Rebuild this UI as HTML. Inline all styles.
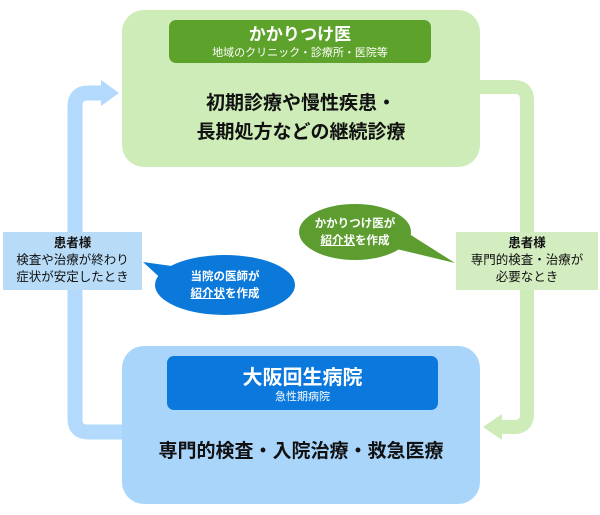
<!DOCTYPE html>
<html><head><meta charset="utf-8"><style>
body{margin:0;width:600px;height:515px;background:#fff;overflow:hidden;position:relative;font-family:"Liberation Sans","Noto Sans CJK JP",sans-serif;}
.a{position:absolute;}
.c{text-align:center;}
</style></head><body>
<svg class="a" style="left:0;top:0" width="600" height="515">
 <path d="M124,432 H88 Q75,432 75,419 V106 Q75,93 88,93 H104" fill="none" stroke="#b3dafc" stroke-width="15"/>
 <polygon points="101,80 119,93 101,106" fill="#b3dafc"/>
 <path d="M478,87 H514 Q527,87 527,100 V414 Q527,427 514,427 H500" fill="none" stroke="#cdecb7" stroke-width="14"/>
 <polygon points="502,414 483,427 502,440" fill="#cdecb7"/>
 <rect x="122" y="10" width="358" height="157" rx="22" fill="#cdecb7"/>
 <rect x="122" y="346" width="358" height="158" rx="22" fill="#a9d5fb"/>
 <rect x="169" y="20" width="262" height="43" rx="7" fill="#5da22a"/>
 <rect x="167" y="356" width="271" height="54" rx="7" fill="#0a78dd"/>
 <rect x="3" y="232" width="139" height="58" fill="#b8dcf8"/>
 <rect x="456" y="232" width="142" height="58" fill="#d3edc0"/>
 <ellipse cx="355" cy="232" rx="56" ry="28" fill="#5d9d2f"/>
 <polygon points="380,245 455,263 395,225" fill="#5d9d2f"/>
 <ellipse cx="225" cy="285" rx="70" ry="30" fill="#0b79d9"/>
 <polygon points="200,270 143,262 180,296" fill="#0b79d9"/>
</svg>
<div class="a c" style="left:169px;top:24px;width:262px;color:#fff;font-size:17px;font-weight:bold;line-height:22px">かかりつけ医</div>
<div class="a c" style="left:169px;top:47px;width:262px;color:#fff;font-size:11px;line-height:13px">地域のクリニック・診療所・医院等</div>
<div class="a c" style="left:122px;top:89px;width:358px;color:#111;font-size:19px;font-weight:bold;line-height:29px">初期診療や慢性疾患・<br>長期処方などの継続診療</div>
<div class="a c" style="left:167px;top:366px;width:271px;color:#fff;font-size:20px;font-weight:bold;line-height:24px">大阪回生病院</div>
<div class="a c" style="left:167px;top:391px;width:271px;color:#fff;font-size:11px;line-height:13px">急性期病院</div>
<div class="a c" style="left:122px;top:439px;width:358px;color:#111;font-size:19px;font-weight:bold;line-height:26px">専門的検査・入院治療・救急医療</div>
<div class="a c" style="left:3px;top:235px;width:139px;color:#111;font-size:12.5px;line-height:17px"><b>患者様</b><br>検査や治療が終わり<br>症状が安定したとき</div>
<div class="a c" style="left:456px;top:235px;width:142px;color:#111;font-size:12.5px;line-height:17px"><b>患者様</b><br>専門的検査・治療が<br>必要なとき</div>
<div class="a c" style="left:300px;top:216px;width:110px;color:#fff;font-size:11.5px;font-weight:bold;line-height:17px">かかりつけ医が<br><u>紹介状</u>を作成</div>
<div class="a c" style="left:155px;top:269px;width:140px;color:#fff;font-size:11.5px;font-weight:bold;line-height:17px">当院の医師が<br><u>紹介状</u>を作成</div>
</body></html>
